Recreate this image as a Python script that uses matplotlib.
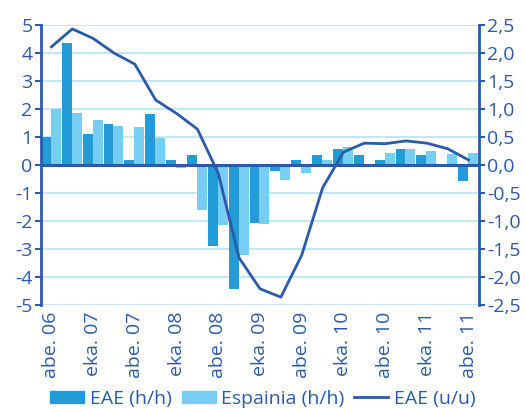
import matplotlib.pyplot as plt
import numpy as np
from matplotlib.patches import Patch
from matplotlib.lines import Line2D

plt.rcParams['font.family'] = ['Open Sans', 'DejaVu Sans']
plt.rcParams['axes.unicode_minus'] = False

# quarterly data, abe. 06 .. abe. 11
eae_hh = [0.99, 4.37, 1.11, 1.46, 0.18, 1.82, 0.18, 0.36, -2.89, -4.43, -2.06,
          -0.20, 0.18, 0.36, 0.57, 0.36, 0.18, 0.57, 0.36, 0.0, -0.57]
esp_hh = [1.99, 1.86, 1.61, 1.39, 1.36, 0.98, -0.09, -1.61, -2.14, -3.21, -2.10,
          -0.54, -0.30, 0.18, 0.64, 0.0, 0.43, 0.57, 0.50, 0.39, 0.43]
eae_uu = [2.11, 2.43, 2.26, 2.00, 1.80, 1.16, 0.92, 0.64, -0.15, -1.66, -2.21,
          -2.36, -1.61, -0.41, 0.23, 0.39, 0.38, 0.43, 0.39, 0.29, 0.09]
xlabels = ['abe. 06', 'eka. 07', 'abe. 07', 'eka. 08', 'abe. 08', 'eka. 09',
           'abe. 09', 'eka. 10', 'abe. 10', 'eka. 11', 'abe. 11']

dark = '#239bd7'
light = '#76cef3'
navy = '#2b5ba8'
grid = '#bfe4f4'
fs = 14

fig = plt.figure(figsize=(5.26, 4.09), dpi=100)
ax = fig.add_axes([41 / 526, 1 - 305 / 409, 438 / 526, 280 / 409])

x = np.arange(len(eae_hh))
w = 0.476
ax.bar(x - 0.262, eae_hh, w, color=dark, zorder=2)
ax.bar(x + 0.214, esp_hh, w, color=light, zorder=2)
ax.axhline(0, color=navy, lw=2.2, zorder=3)

ax.set_xlim(-0.5, len(x) - 0.5)
ax.set_ylim(-5, 5)
ax.set_yticks(range(-5, 6))
ax.yaxis.grid(True, color=grid, lw=1.3, zorder=0)
ax.set_axisbelow(True)
ax.set_xticks(x[::2])
ax.set_xticklabels(xlabels, rotation=90, fontsize=fs, color=navy)
ax.tick_params(axis='x', length=0, pad=5)
ax.tick_params(axis='y', colors=navy, labelsize=fs, length=4, width=1.5, pad=2)
for s in ['top', 'bottom', 'right']:
    ax.spines[s].set_visible(False)
ax.spines['left'].set_color(navy)
ax.spines['left'].set_linewidth(2)

ax2 = ax.twinx()
ax2.plot(x, eae_uu, color=navy, lw=2)
ax2.set_ylim(-2.5, 2.5)
ax2.set_yticks(np.arange(-2.5, 2.6, 0.5))
ax2.set_yticklabels([('%.1f' % v).replace('.', ',') for v in np.arange(-2.5, 2.6, 0.5)])
ax2.tick_params(axis='y', colors=navy, labelsize=fs, length=4, width=1.5, pad=2)
for s in ['top', 'bottom', 'left']:
    ax2.spines[s].set_visible(False)
ax2.spines['right'].set_color(navy)
ax2.spines['right'].set_linewidth(2)

handles = [Patch(color=dark), Patch(color=light), Line2D([], [], color=navy, lw=2)]
fig.legend(handles, ['EAE (h/h)', 'Espainia (h/h)', 'EAE (u/u)'], loc='lower center',
           bbox_to_anchor=(0.5, -0.04), ncol=3, frameon=False, fontsize=fs,
           labelcolor=navy, handlelength=1.75, handleheight=0.55, columnspacing=0.5,
           handletextpad=0.3)

fig.savefig('out.png', dpi=100)
